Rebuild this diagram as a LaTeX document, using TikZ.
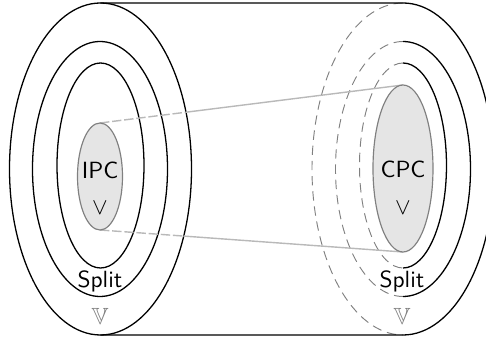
\documentclass[tikz,border=0pt]{standalone}
\usepackage{pgf, tikz}
\usepackage{amssymb}
\usetikzlibrary{calc}

\begin{document}
\begin{tikzpicture}[
            x=0.015cm, y=0.015cm, % 单位: 一个像素
            ring/.style={line width=0.55pt}, % 实线圆环
            hidden/.style={draw=gray, line width=0.4pt, dash pattern=on 4pt off 2.5pt}, % 被遮挡的虚线
            cone/.style={draw=gray!55, line width=0.6pt}, % 灰色连接线
            conehidden/.style={cone, dash pattern=on 4pt off 1.2pt}, % 连接线的虚线部分
            cell/.style={draw=gray, fill=gray!20, line width=0.5pt}, % 灰色椭圆
            every node/.style={
                inner sep=0, % 内边距为 0
                font=\sffamily % 无衬线字体
            }
        ]
        
        \clip (0,0) rectangle (486,338); % 边界

        % 右侧 (后面) 的三个椭圆: 左半为虚线
        \draw[hidden] (403,335) arc[start angle=90, end angle=270, x radius=91, y radius=166];
        \draw[hidden] (403,296.5) arc[start angle=90, end angle=270, x radius=67.5, y radius=127.5];
        \draw[hidden] (403,275) arc[start angle=90, end angle=270, x radius=43.5, y radius=102.5];

        % 右半为实线, 外圈与圆柱的上下边相连
        \draw[ring] (100.5,335) -- (403,335)
            arc[start angle=90, end angle=-90, x radius=91, y radius=166] -- (100.5,3);
        \draw[ring] (403,296.5) arc[start angle=90, end angle=-90, x radius=67.5, y radius=127.5];
        \draw[ring] (403,275) arc[start angle=90, end angle=-90, x radius=43.5, y radius=102.5];

        % 左侧 (前面) 的三个椭圆
        \draw[ring] (100.5,169) ellipse [x radius=91, y radius=166];
        \draw[ring] (100,169) ellipse [x radius=67.5, y radius=127.5];
        \draw[ring] (100.5,172.5) ellipse [x radius=43.5, y radius=102.5];

        % 两个灰色椭圆的上下端
        \coordinate (IPC top) at (100,215);
        \coordinate (IPC bottom) at (100,108);
        \coordinate (CPC top) at (403,253);
        \coordinate (CPC bottom) at (403,86);
        \coordinate (top cut) at ($(IPC top)!0.282!(CPC top)$);
        \coordinate (bottom cut) at ($(IPC bottom)!0.275!(CPC bottom)$);

        % 连接线
        \draw[conehidden] (IPC top) -- (top cut);
        \draw[cone] (top cut) -- (CPC top);
        \draw[conehidden] (IPC bottom) -- (bottom cut);
        \draw[cone] (bottom cut) -- (CPC bottom);

        % 灰色椭圆
        \draw[cell] (100,161.5) ellipse [x radius=22.5, y radius=53.5];
        \draw[cell] (403,169.5) ellipse [x radius=30, y radius=83.5];

        % 文字
        \node (IPC) at (100,168) {IPC};
        \node (IPC vee) at (100,130.5) {$\vee$};
        \node (CPC) at (403,168.5) {CPC};
        \node (CPC vee) at (403,130.5) {$\vee$};
        \node (split left) at (100,56.5) {Split};
        \node (split right) at (402,56.5) {Split};
        \node[text=gray] (V left) at (100,21.5) {$\mathbb{V}$};
        \node[text=gray] (V right) at (402,21.5) {$\mathbb{V}$};
        \end{tikzpicture}
\end{document}
